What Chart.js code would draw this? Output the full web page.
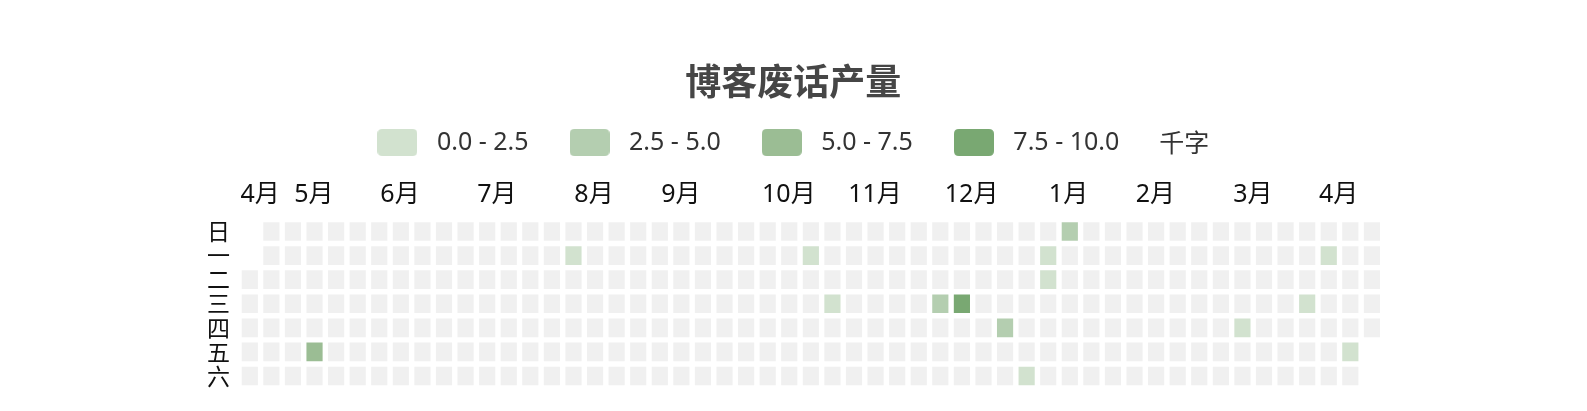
<!DOCTYPE html>
<html>
<head>
<meta charset="utf-8">
<script src="https://cdn.jsdelivr.net/npm/chart.js@4.4.1/dist/chart.umd.min.js"></script>
<style>
  html, body { margin: 0; padding: 0; background: #ffffff; }
  canvas { display: block; }
</style>
</head>
<body>
<canvas id="c" width="1587" height="411"></canvas>
<script>
// ---------------- data ----------------
const chartTitle = '博客废话产量';
const rangeStart = '2019-04-16';
const rangeEnd = '2020-04-16';
const postDates = ['2019-05-10', '2019-07-29', '2019-10-14', '2019-10-23', '2019-11-27',
                   '2019-12-04', '2019-12-19', '2019-12-28', '2019-12-30', '2019-12-31',
                   '2020-01-05', '2020-03-05', '2020-03-25', '2020-03-30', '2020-04-10'];
const postValues = [6.2, 1.5, 1.3, 1.4, 3.6,
                    8.6, 3.4, 1.6, 1.2, 1.5,
                    3.8, 1.4, 1.3, 1.5, 1.6]; // 千字
const dayLabels = ['日', '一', '二', '三', '四', '五', '六'];
const monthLabels = ['4月', '5月', '6月', '7月', '8月', '9月', '10月', '11月', '12月', '1月', '2月', '3月', '4月'];
const monthTickPos = [0.48, 2.97, 6.96, 11.45, 15.95, 19.98, 24.98, 28.97, 33.45, 37.94, 41.97, 46.48, 50.46];
const pieceBounds = [0, 2.5, 5, 7.5, 10];
const unitLabel = '千字';

// ---------------- styles ----------------
const pieceColors = ['#d2e2cf', '#b4ceb0', '#9bbd94', '#79a872'];
const emptyColor = '#f0f0f0';
const latinFont = '"Noto Sans", "Noto Sans CJK SC", sans-serif';
const cjkFont = '"Noto Sans CJK SC", "Noto Sans", sans-serif';
const legendFontSize = 25;
const legendColor = '#333333';
const unitGap = 40;
const swatchW = 40, swatchH = 27, swatchSlot = 54;
const plotTop = 219.5;

// ---------------- build cells from the calendar ----------------
const DAY = 86400000;
const t0 = Date.parse(rangeStart + 'T00:00:00Z');
const t1 = Date.parse(rangeEnd + 'T00:00:00Z');
const startDow = new Date(t0).getUTCDay();
const valueByDate = {};
postDates.forEach((d, i) => { valueByDate[d] = postValues[i]; });
const cells = [];
for (let t = t0, i = 0; t <= t1; t += DAY, i++) {
  const key = new Date(t).toISOString().slice(0, 10);
  const p = i + startDow;
  const week = Math.floor(p / 7), dow = p % 7;
  cells.push({ x: week, y: [dow - 0.5, dow + 0.5], v: (key in valueByDate) ? valueByDate[key] : null, date: key });
}
const nWeeks = cells[cells.length - 1].x + 1;

function colorFor(v) {
  if (v === null || v === undefined) return emptyColor;
  for (let i = 0; i < pieceColors.length; i++) {
    if (v >= pieceBounds[i] && (v < pieceBounds[i + 1] || i === pieceColors.length - 1)) return pieceColors[i];
  }
  return emptyColor;
}

function swatch(color) {
  const w = swatchW, h = swatchH, r = 5;
  const cv = document.createElement('canvas');
  cv.width = w; cv.height = h;
  const g = cv.getContext('2d');
  g.fillStyle = color;
  g.beginPath();
  g.moveTo(r, 0); g.lineTo(w - r, 0); g.quadraticCurveTo(w, 0, w, r);
  g.lineTo(w, h - r); g.quadraticCurveTo(w, h, w - r, h);
  g.lineTo(r, h); g.quadraticCurveTo(0, h, 0, h - r);
  g.lineTo(0, r); g.quadraticCurveTo(0, 0, r, 0);
  g.closePath(); g.fill();
  return cv;
}

const unitPlugin = {
  id: 'unitLabel',
  afterLayout(chart) {
    const lg = chart.legend;
    if (!lg || !lg.lineWidths || !lg.lineWidths.length) return;
    const ctx = chart.ctx;
    ctx.save();
    ctx.font = `${legendFontSize}px ${cjkFont}`;
    const w = ctx.measureText(unitLabel).width;
    ctx.restore();
    // widen the row so that swatches + unit text are centred together
    lg.lineWidths[0] += unitGap + w + (swatchSlot - swatchW) / 2;
  },
  afterDraw(chart) {
    const lg = chart.legend;
    if (!lg || !lg.legendHitBoxes || !lg.legendHitBoxes.length) return;
    const hb = lg.legendHitBoxes[lg.legendHitBoxes.length - 1];
    const ctx = chart.ctx;
    ctx.save();
    ctx.font = `${legendFontSize}px ${cjkFont}`;
    ctx.fillStyle = legendColor;
    ctx.textAlign = 'left';
    ctx.textBaseline = 'middle';
    ctx.fillText(unitLabel, hb.left + hb.width + unitGap, hb.top + hb.height / 2);
    ctx.restore();
  }
};

Chart.defaults.font.family = latinFont;

new Chart(document.getElementById('c'), {
  type: 'bar',
  data: {
    datasets: [{
      label: chartTitle,
      data: cells,
      backgroundColor: (ctx) => colorFor(ctx.raw ? ctx.raw.v : null),
      borderColor: '#ffffff',
      borderWidth: 2.7,
      borderSkipped: false,
      borderRadius: 0,
      inflateAmount: 0,
      grouped: false,
      barPercentage: 1,
      categoryPercentage: 1
    }]
  },
  options: {
    responsive: false,
    animation: false,
    devicePixelRatio: 1,
    layout: { padding: { left: 204, right: 204.3, top: 0, bottom: 23 } },
    plugins: {
      title: {
        display: true,
        text: chartTitle,
        color: '#464646',
        font: { family: cjkFont, size: 36, weight: 'bold', lineHeight: '30px' },
        padding: { top: 66, bottom: 0 }
      },
      legend: {
        display: true,
        position: 'top',
        align: 'center',
        onClick: () => {},
        labels: {
          usePointStyle: true,
          pointStyleWidth: swatchSlot,
          padding: 34,
          color: legendColor,
          font: { family: latinFont, size: legendFontSize },
          generateLabels: () => pieceColors.map((c, i) => ({
            text: `${pieceBounds[i].toFixed(1)} - ${pieceBounds[i + 1].toFixed(1)}`,
            pointStyle: swatch(c),
            fillStyle: c,
            strokeStyle: 'rgba(0,0,0,0)',
            lineWidth: 0,
            hidden: false,
            datasetIndex: 0,
            fontColor: legendColor
          }))
        }
      },
      tooltip: { enabled: false }
    },
    scales: {
      x: {
        type: 'linear',
        position: 'top',
        min: -0.5,
        max: nWeeks - 0.5,
        offset: false,
        grid: { display: false, drawTicks: false },
        border: { display: false },
        afterBuildTicks: (s) => { s.ticks = monthTickPos.map(v => ({ value: v })); },
        afterFit: (s) => {
          const ch = s.chart;
          const used = (ch.titleBlock ? ch.titleBlock.height : 0) + (ch.legend ? ch.legend.height : 0);
          s.height = Math.max(40, plotTop - used);
        },
        ticks: {
          autoSkip: false,
          maxRotation: 0,
          minRotation: 0,
          padding: 10,
          color: '#111111',
          font: { family: latinFont, size: 25 },
          callback: (v, i) => monthLabels[i]
        }
      },
      y: {
        type: 'linear',
        reverse: true,
        min: -0.5,
        max: 6.5,
        grid: { display: false, drawTicks: false },
        border: { display: false },
        afterBuildTicks: (s) => { s.ticks = dayLabels.map((_, i) => ({ value: i })); },
        afterFit: (s) => { s.width = 35; },
        ticks: {
          autoSkip: false,
          padding: 9,
          color: '#111111',
          font: { family: cjkFont, size: 23 },
          callback: (v) => dayLabels[v]
        }
      }
    }
  },
  plugins: [unitPlugin]
});
</script>
</body>
</html>
